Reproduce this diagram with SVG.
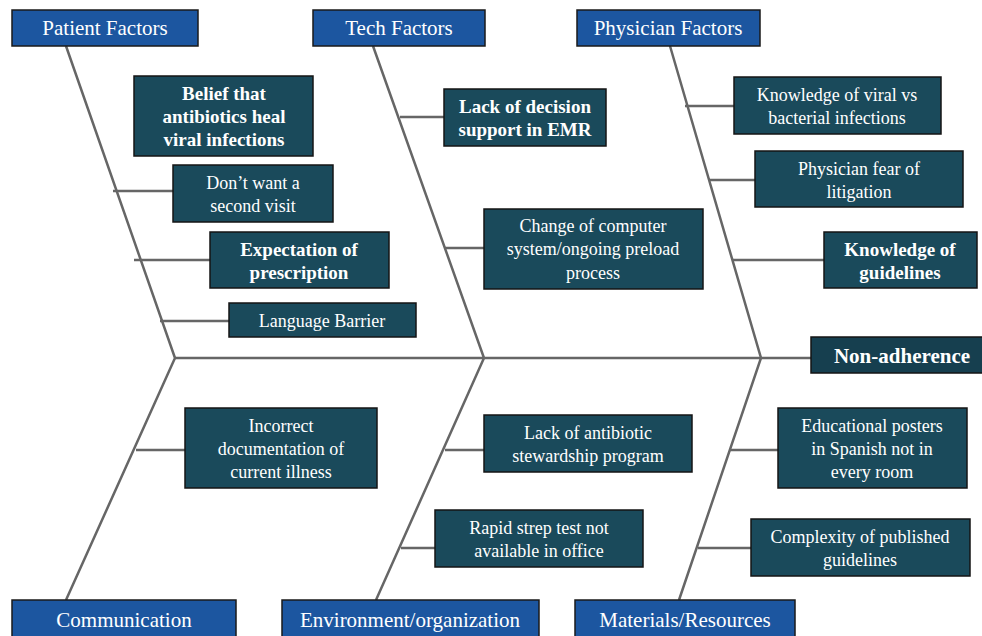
<svg xmlns="http://www.w3.org/2000/svg" width="982" height="636" viewBox="0 0 982 636">
<style>
.hdr rect{fill:#1c56a0;stroke:#1a1a1a;stroke-width:1.5}
.hdr text{fill:#ffffff;font-family:'Liberation Serif','Times New Roman',Tinos,'DejaVu Serif',serif;font-size:21px;text-anchor:middle}
.node rect{fill:#1a4a5b;stroke:#151515;stroke-width:1.5}
.node text{fill:#ffffff;font-family:'Liberation Serif','Times New Roman',Tinos,'DejaVu Serif',serif;font-size:18px;text-anchor:middle}
.node text.b{font-weight:bold;font-size:19px}
#conn line,#conn polyline{stroke:#666666;stroke-width:2.5;fill:none}
</style>
<rect x="0" y="0" width="982" height="636" fill="#ffffff"/>
<g id="conn">
<line x1="175" y1="358" x2="811" y2="358"/>
<polyline points="66,46 175,358 66,600"/>
<polyline points="373,46 484,358 376,600"/>
<polyline points="670,46 761,358 679,600"/>
<line x1="113" y1="191" x2="173" y2="191"/>
<line x1="134" y1="260" x2="210" y2="260"/>
<line x1="160" y1="321" x2="229" y2="321"/>
<line x1="400" y1="117" x2="444" y2="117"/>
<line x1="445" y1="248" x2="484" y2="248"/>
<line x1="685" y1="106" x2="734" y2="106"/>
<line x1="709" y1="180" x2="755" y2="180"/>
<line x1="733" y1="260" x2="824" y2="260"/>
<line x1="136" y1="450" x2="185" y2="450"/>
<line x1="445" y1="450" x2="484" y2="450"/>
<line x1="401" y1="548" x2="435" y2="548"/>
<line x1="730" y1="450" x2="778" y2="450"/>
<line x1="698" y1="548" x2="751" y2="548"/>
</g>
<g id="patient-factors" class="hdr"><rect x="12" y="10" width="186" height="36"/><text x="105" y="35">Patient  Factors</text></g>
<g id="tech-factors" class="hdr"><rect x="313" y="10" width="172" height="36"/><text x="399" y="35">Tech Factors</text></g>
<g id="physician-factors" class="hdr"><rect x="577" y="10" width="183" height="36"/><text x="668" y="35">Physician  Factors</text></g>
<g id="communication" class="hdr"><rect x="12" y="600" width="224" height="40"/><text x="124" y="627">Communication</text></g>
<g id="environment" class="hdr"><rect x="282" y="600" width="257" height="40"/><text x="410" y="627">Environment/organization</text></g>
<g id="materials" class="hdr"><rect x="575" y="600" width="220" height="40"/><text x="685" y="627">Materials/Resources</text></g>
<g id="belief" class="node"><rect x="134" y="76" width="179" height="80"/><text class="b" x="224" y="100">Belief that</text><text class="b" x="224" y="123">antibiotics heal</text><text class="b" x="224" y="146">viral infections</text></g>
<g id="second-visit" class="node"><rect x="173" y="165" width="160" height="57"/><text x="253" y="189">Don’t want a</text><text x="253" y="212">second visit</text></g>
<g id="expectation" class="node"><rect x="210" y="232" width="179" height="56"/><text class="b" x="299" y="256">Expectation of</text><text class="b" x="299" y="279">prescription</text></g>
<g id="language" class="node"><rect x="229" y="303" width="187" height="34"/><text x="322" y="327">Language Barrier</text></g>
<g id="decision-support" class="node"><rect x="444" y="89" width="162" height="57"/><text class="b" x="525" y="113">Lack of decision</text><text class="b" x="525" y="136">support in EMR</text></g>
<g id="computer-system" class="node"><rect x="484" y="209" width="219" height="80"/><text x="593" y="232">Change of computer</text><text x="593" y="255">system/ongoing preload</text><text x="593" y="279">process</text></g>
<g id="viral-bacterial" class="node"><rect x="734" y="77" width="207" height="57"/><text x="837" y="101">Knowledge of viral vs</text><text x="837" y="124">bacterial infections</text></g>
<g id="litigation" class="node"><rect x="755" y="151" width="208" height="56"/><text x="859" y="175">Physician fear of</text><text x="859" y="198">litigation</text></g>
<g id="guidelines-knowledge" class="node"><rect x="824" y="232" width="153" height="56"/><text class="b" x="900" y="256">Knowledge of</text><text class="b" x="900" y="279">guidelines</text></g>
<g id="non-adherence" class="node"><rect x="811" y="337" width="175" height="36" style="fill:#163f4f"/><text class="b" x="902" y="363" style="font-size:21px">Non-adherence</text></g>
<g id="documentation" class="node"><rect x="185" y="408" width="192" height="80"/><text x="281" y="432">Incorrect</text><text x="281" y="455">documentation of</text><text x="281" y="478">current illness</text></g>
<g id="stewardship" class="node"><rect x="484" y="415" width="208" height="57"/><text x="588" y="439">Lack of antibiotic</text><text x="588" y="462">stewardship program</text></g>
<g id="strep-test" class="node"><rect x="435" y="510" width="208" height="57"/><text x="539" y="534">Rapid strep test not</text><text x="539" y="557">available in office</text></g>
<g id="posters" class="node"><rect x="778" y="408" width="189" height="80"/><text x="872" y="432">Educational posters</text><text x="872" y="455">in Spanish not in</text><text x="872" y="478">every room</text></g>
<g id="complexity" class="node"><rect x="751" y="519" width="219" height="57"/><text x="860" y="543">Complexity of published</text><text x="860" y="566">guidelines</text></g>
</svg>
